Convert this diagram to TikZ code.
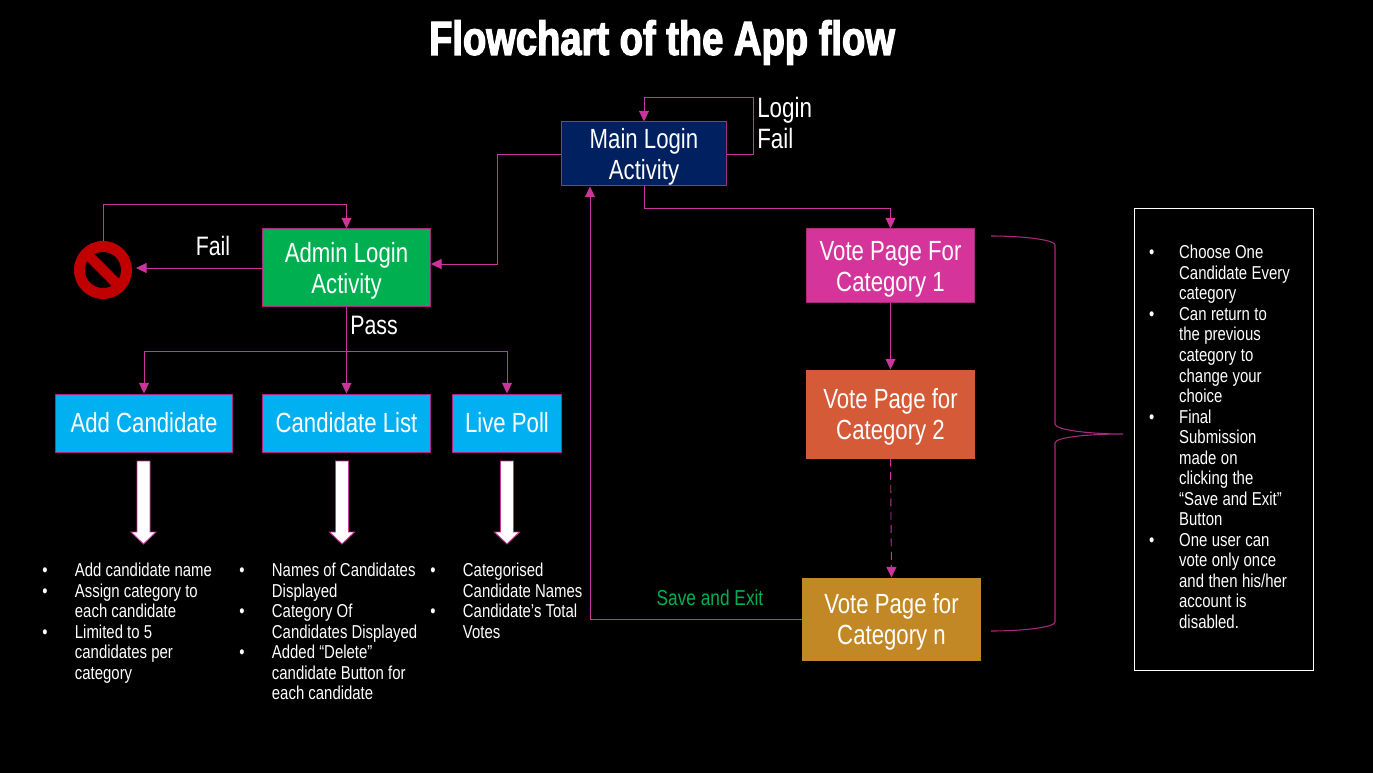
\documentclass[tikz,border=0pt]{standalone}
\usepackage{fontspec}
\usepackage{array}
\setmainfont[FakeStretch=0.8]{Liberation Sans}
\newfontfamily\titlefont[FakeStretch=0.794,BoldFeatures={FakeBold=2.5}]{Liberation Sans}
\usetikzlibrary{arrows.meta,calc}
\definecolor{conn}{HTML}{C9359A}
\definecolor{edgec}{HTML}{A8287E}
\definecolor{navy}{HTML}{002060}
\definecolor{gr}{HTML}{00B050}
\definecolor{bl}{HTML}{00B0F0}
\definecolor{vone}{HTML}{D5359B}
\definecolor{vtwo}{HTML}{D55A37}
\definecolor{vn}{HTML}{C38826}
\definecolor{rd}{HTML}{C00000}
\newcommand{\lst}[2][24.5pt]{\fontsize{14}{15.4}\selectfont\begin{tabular}{@{}p{#1}@{}l@{}}#2\end{tabular}}
\newcommand{\bu}{\textbullet}
\newcommand{\tl}{\rule{0pt}{19.5pt}}
\tikzset{
 flow/.style={draw=edgec,line width=.75pt,inner sep=0pt,align=center,text=white,font=\fontsize{20.8}{23.2}\selectfont},
 conn/.style={draw=conn,line width=.7pt,-{Triangle[length=8pt,width=7.5pt]}},
 lbl/.style={text=white,inner sep=0pt,font=\fontsize{20}{23.2}\selectfont},
 lstn/.style={text=white,inner sep=0pt,anchor=north west},
 blockarrow/.pic={\path[fill=white,draw=conn,line width=.7pt] (-6.5,0)--(6.5,0)--(6.5,71)--(12.5,71)--(0,83)--(-12.5,71)--(-6.5,71)--cycle;}
}
\begin{document}
\begin{tikzpicture}[x=.75pt,y=-.75pt]
\path[fill=black,use as bounding box] (0,0) rectangle (1373,773);
\node[text=white,inner sep=0pt,font=\fontsize{36}{40}\selectfont\titlefont\bfseries] (title) at (662,42.5) {Flowchart of the App flow};
\node[flow,fill=navy,minimum width=165*.75pt,minimum height=64*.75pt] (main) at (644,154) {\tl Main Login\\Activity};
\node[flow,fill=gr,minimum width=168*.75pt,minimum height=78*.75pt] (admin) at (346.5,268) {\tl Admin Login\\Activity};
\node[flow,fill=bl,minimum width=177*.75pt,minimum height=58*.75pt] (add) at (144,423) {Add Candidate};
\node[flow,fill=bl,minimum width=168*.75pt,minimum height=58*.75pt] (clist) at (346.5,423) {Candidate List};
\node[flow,fill=bl,minimum width=109*.75pt,minimum height=58*.75pt] (live) at (507,423) {Live Poll};
\node[flow,fill=vone,minimum width=168*.75pt,minimum height=74*.75pt] (v1) at (890.5,266) {\tl Vote Page For\\Category 1};
\node[flow,draw=vtwo,fill=vtwo,minimum width=168*.75pt,minimum height=88*.75pt] (v2) at (890.5,414) {\tl Vote Page for\\Category 2};
\node[flow,draw=vn,fill=vn,minimum width=178*.75pt,minimum height=82*.75pt] (vn) at (891.5,619) {\tl Vote Page for\\Category n};
\node[circle,fill=rd,minimum size=58*.75pt,inner sep=0pt] (no) at (103,270) {};
\fill[black] (no.center) circle[radius=18];
\draw[rd,line width=7.5pt] (no.center)++(-14,-14) -- ++(28,28);
\node[lbl] (failA) at (213,246) {Fail};
\node[lbl] (passA) at (374,325) {Pass};
\node[lbl,align=left,anchor=west,font=\fontsize{21}{23.2}\selectfont] (loginfail) at (757,123) {Login\\Fail};
\node[text=gr,inner sep=0pt,font=\fontsize{16.2}{18}\selectfont] (save) at (710,598) {Save and Exit};
% connectors
\coordinate (m1) at (753,154); \coordinate (m2) at (753,97); \coordinate (m3) at (644,97);
\draw[conn] (main.east) -- (m1) -- (m2) -- (m3) -- (main.north);
\coordinate (a1) at (497,154); \coordinate (a2) at (497,264);
\draw[conn] (main.west) -- (a1) -- (a2) -- ($(admin.east)+(0,-4)$);
\coordinate (b1) at (644,208); \coordinate (b2) at (890.5,208);
\draw[conn] (main.south) -- (b1) -- (b2) -- (v1.north);
\draw[conn] (admin.west) -- (136,268);
\coordinate (c1) at (103,204); \coordinate (c2) at (346.5,204);
\draw[conn] (no.north) -- (c1) -- (c2) -- (admin.north);
\coordinate (d) at (346.5,351);
\draw[conn] (admin.south) -- (clist.north);
\draw[conn] (d) -| (add.north);
\draw[conn] (d) -| (live.north);
\draw[conn] (v1.south) -- (v2.north);
\draw[conn,dash pattern=on 6pt off 4pt] (v2.south) -- (vn.north);
\coordinate (e1) at (590,619);
\draw[conn] (vn.west) -- (e1) -- ($(main.south west)+(29,0)$);
% block arrows
\pic at (143.5,461) {blockarrow};
\pic at (342,461) {blockarrow};
\pic at (507,461) {blockarrow};
% lists
\node[lstn] (l1) at (42,562) {\lst{\bu & Add candidate name\\ \bu & Assign category to\\ & each candidate\\ \bu & Limited to 5\\ & candidates per\\ & category}};
\node[lstn] (l2) at (239,562) {\lst{\bu & Names of Candidates\\ & Displayed\\ \bu & Category Of\\ & Candidates Displayed\\ \bu & Added “Delete”\\ & candidate Button for\\ & each candidate}};
\node[lstn] (l3) at (430,562) {\lst{\bu & Categorised\\ & Candidate Names\\ \bu & Candidate’s Total\\ & Votes}};
\node[draw=white,line width=.75pt,inner xsep=11pt,inner ysep=0pt,text width=112.25pt,minimum height=462*.75pt,text=white,align=left] (rb) at (1224,439.5) {\lst[22.5pt]{\bu & Choose One\\ & Candidate Every\\ & category\\ \bu & Can return to\\ & the previous\\ & category to\\ & change your\\ & choice\\ \bu & Final\\ & Submission\\ & made on\\ & clicking the\\ & “Save and Exit”\\ & Button\\ \bu & One user can\\ & vote only once\\ & and then his/her\\ & account is\\ & disabled.}};
% brace
\coordinate (br1) at (991,236); \coordinate (br2) at (1055,245); \coordinate (br3) at (1055,424); \coordinate (br4) at (1123,434); \coordinate (br5) at (1055,443); \coordinate (br6) at (1055,622); \coordinate (br7) at (991,631);
\draw[edgec,line width=.8pt] (br1) .. controls (1025,236) and (1055,240) .. (br2) -- (br3) .. controls (1055,430) and (1090,434) .. (br4) .. controls (1090,434) and (1055,437) .. (br5) -- (br6) .. controls (1055,627) and (1025,631) .. (br7);
\end{tikzpicture}
\end{document}
